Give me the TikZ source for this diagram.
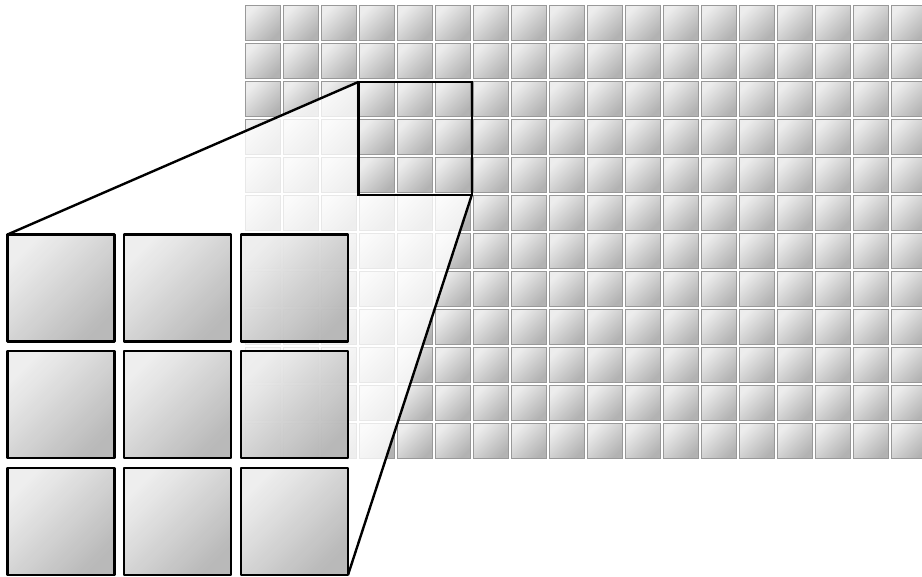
\documentclass[tikz,border=0pt]{standalone}
\usetikzlibrary{calc}
\definecolor{EdgeClr}{rgb}{0.6,0.6,0.6}
\definecolor{LightClr}{rgb}{0.93,0.93,0.93}
\definecolor{ShineClr}{rgb}{0.93,0.93,0.93}
\definecolor{DarkClr}{rgb}{0.7,0.7,0.7}

\tikzset{
  cell/.style={draw=EdgeClr,line width=1.4pt,top color=LightClr,middle color=ShineClr,
    bottom color=DarkClr,shading angle=45},
  bigcell/.style={draw=black,line width=2.4pt,line join=round,top color=LightClr,
    middle color=ShineClr,bottom color=DarkClr,shading angle=45,fill opacity=0.9},
  zoomline/.style={line width=2.4pt,black}
}

\begin{document}
\begin{tikzpicture}[x=1pt,y=-1pt]
\useasboundingbox (0,0) rectangle (922,577);
\clip (0,0) rectangle (922,577);

\coordinate (box nw) at (358.3,82);
\coordinate (box se) at (471.7,195.3);
\coordinate (zoom nw) at (7.5,234.5);
\coordinate (zoom se) at (348,575);

% the pixel grid
\foreach \i in {0,...,17}
  \foreach \j in {0,...,11}
    \draw[cell] ({245.5+38*\i},{5.5+38*\j}) rectangle +(35,35);

% faded part between the box and the magnified cells
\fill[white,opacity=0.78] (box nw) -- (zoom nw) -- (zoom nw |- zoom se) -- (zoom se)
  -- (box se) -- (box nw |- box se) -- cycle;

% magnified cells
\foreach \i in {0,1,2}
  \foreach \j in {0,1,2}
    \draw[bigcell] ({7.5+116.7*\i},{234.5+116.7*\j}) rectangle +(107,107);

\draw[zoomline] (box nw) rectangle (box se);
\draw[zoomline] (box nw) -- (zoom nw);
\draw[zoomline] (box se) -- (zoom se);

\end{tikzpicture}
\end{document}
